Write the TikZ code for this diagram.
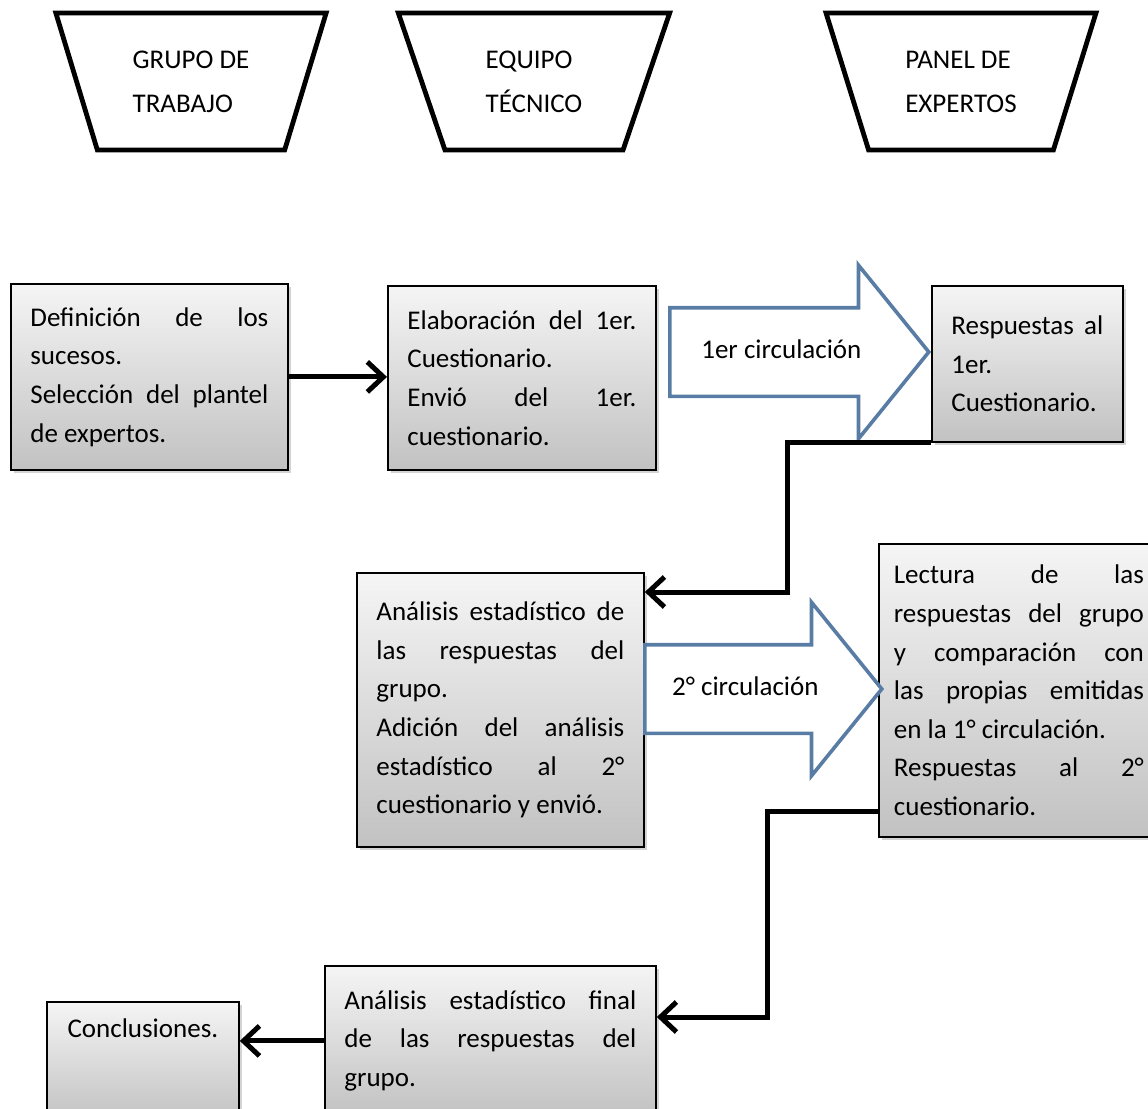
\documentclass[tikz,border=0pt]{standalone}
\usepackage{fontspec}
\setmainfont{Carlito}
\usetikzlibrary{shapes.geometric,shapes.arrows,arrows.meta,shadows,calc}
\hyphenpenalty=10000
\tolerance=10000

\definecolor{flecha}{RGB}{88,124,163}

\begin{document}
\begin{tikzpicture}[x=0.5pt,y=-0.5pt,
      actor/.style={draw,line width=2.4pt,trapezium,shape border rotate=180,
        trapezium stretches=true,trapezium left angle=69,trapezium right angle=69,
        minimum width=136pt,minimum height=68.5pt,align=left,
        font=\fontsize{13.5pt}{22pt}\selectfont},
      paso/.style={draw,line width=0.9pt,anchor=north west,top color=gray!8,bottom color=gray!48,
        drop shadow={shadow xshift=1.5pt,shadow yshift=-1.5pt,opacity=0.35},
        align=justify,inner xsep=9.75pt,
        font=\fontsize{13.5pt}{19.3pt}\selectfont},
      circ/.style={draw=flecha,line width=1.8pt,fill=white,single arrow,anchor=tail,
        text height=10pt,text depth=3.5pt,inner ysep=14.5pt,
        single arrow head extend=21.25pt,single arrow tip angle=102,minimum width=85pt,
        font=\fontsize{13.5pt}{16pt}\selectfont},
      conn/.style={line width=2.5pt,-{Straight Barb[length=8pt,width=15pt]}}
      ]
      \useasboundingbox (0,0) rectangle (1148,1109);
      % actores
      \node[actor] (grupo) at (191,81.5) {GRUPO DE\\TRABAJO};
      \node[actor] (equipo) at (534,81.5) {EQUIPO\\TÉCNICO};
      \node[actor] (panel) at (961,81.5) {PANEL DE\\EXPERTOS};

      % pasos
      \node[paso,text width=119pt,minimum height=93pt] (def) at (10,283)
        {Definición de los\linebreak sucesos.\\ Selección del plantel\linebreak de expertos.};
      \node[paso,text width=114.5pt,minimum height=92pt] (elab) at (387,285)
        {Elaboración del 1er.\linebreak Cuestionario.\\ Envió del 1er.\linebreak cuestionario.};
      \node[paso,text width=76pt,minimum height=78pt] (resp1) at (931,285)
        {Respuestas al\linebreak 1er.\\ Cuestionario.};
      \node[paso,text width=124pt,minimum height=137pt] (anal) at (356,572)
        {Análisis estadístico de\linebreak las respuestas del\linebreak grupo.\\ Adición del análisis\linebreak estadístico al 2°\linebreak cuestionario y envió.};
      \node[paso,text width=125pt,inner xsep=7.5pt,minimum height=146.5pt] (lect) at (878,543)
        {Lectura de las\linebreak respuestas del grupo\linebreak y comparación con\linebreak las propias emitidas\linebreak en la 1° circulación.\\ Respuestas al 2°\linebreak cuestionario.};
      \node[paso,text width=146pt,minimum height=75pt] (final) at (324,965)
        {Análisis estadístico final\linebreak de las respuestas del\linebreak grupo.};
      \node[paso,text width=76.5pt,align=center,text height=10pt,text depth=33.5pt,inner ysep=8pt] (concl) at (46,1001)
        {Conclusiones.};

      % circulaciones
      \node[circ,minimum height=129.5pt] (circ1) at (668,352) {1er circulación};
      \node[circ,minimum height=118.5pt] (circ2) at (643,689) {2° circulación};

      \draw[conn] (def.east) -- (def.east -| elab.west);
      \draw[conn] (resp1.south west) -- ++(-144,0) |- ($(anal.north east)+(0,20)$);
      \draw[conn] ($(lect.south west)+(0,-26)$) -- ++(-111,0) |- ($(final.north east)+(0,52)$);
      \draw[conn] (final.west) -- (final.west -| concl.east);
    \end{tikzpicture}
\end{document}
